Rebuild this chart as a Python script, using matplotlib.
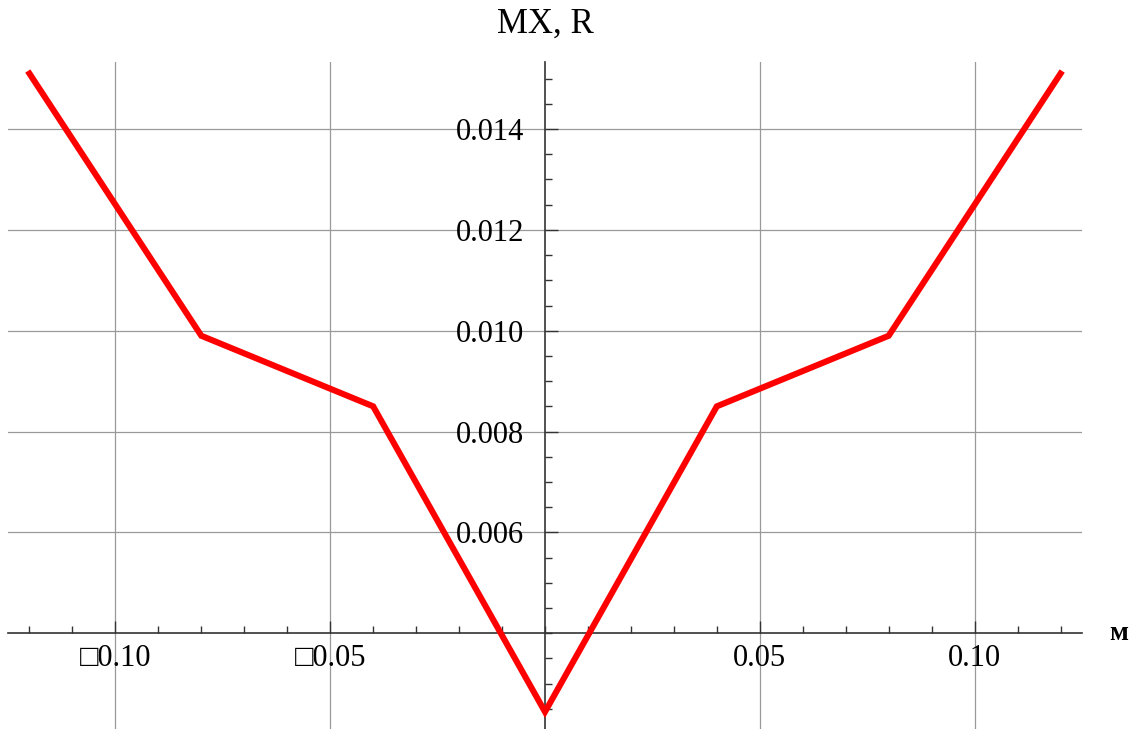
import matplotlib
matplotlib.use('Agg')
import matplotlib.pyplot as plt
from matplotlib.ticker import FixedLocator, MultipleLocator

# piecewise-linear curve
m = [-0.12, -0.08, -0.04, 0.0, 0.04, 0.08, 0.12]
mx_r = [0.0151, 0.0099, 0.0085, 0.00244, 0.0085, 0.0099, 0.0151]

x_ticks = [-0.10, -0.05, 0.05, 0.10]
x_labels = ['\u25a10.10', '\u25a10.05', '0.05', '0.10']
y_ticks = [0.006, 0.008, 0.010, 0.012, 0.014]
y_labels = ['0.006', '0.008', '0.010', '0.012', '0.014']

fam = ['Liberation Serif', 'DejaVu Sans']
plt.rcParams['font.family'] = fam

fig = plt.figure(figsize=(11.37, 7.29), dpi=100)
ax = fig.add_axes([8 / 1137, 0.0, 1074 / 1137, 667 / 729])

ax.plot(m, mx_r, color='red', lw=4.4, solid_joinstyle='miter', zorder=3)

ax.set_xlim(-0.125, 0.125)
ax.set_ylim(0.0021, 0.01533)

# axes crossing at (0, 0.004)
ax.spines['left'].set_position(('data', 0.0))
ax.spines['bottom'].set_position(('data', 0.004))
ax.spines['top'].set_visible(False)
ax.spines['right'].set_visible(False)
for s in ('left', 'bottom'):
    ax.spines[s].set_color('#333333')
    ax.spines[s].set_linewidth(1.2)

ax.xaxis.set_major_locator(FixedLocator(x_ticks))
ax.set_xticklabels(x_labels)
ax.xaxis.set_minor_locator(MultipleLocator(0.01))
ax.yaxis.set_major_locator(FixedLocator(y_ticks))
ax.set_yticklabels(y_labels)
ax.yaxis.set_minor_locator(MultipleLocator(0.0005))

ax.tick_params(which='both', direction='in', color='#333333', width=1)
ax.tick_params(which='major', length=9)
ax.tick_params(which='minor', length=5)
ax.tick_params(axis='x', which='major', labelsize=22, pad=8)
ax.tick_params(axis='y', which='major', labelsize=22, pad=15)

ax.grid(True, which='major', color='#999999', lw=0.9)
ax.set_axisbelow(True)

fig.text(545 / 1137, 1 - 24 / 729, 'MX, R', ha='center', va='center', fontsize=25)
fig.text(1119 / 1137, 1 - 633 / 729, 'м', ha='center', va='center', fontsize=20,
         weight='bold')

fig.savefig('out.png', dpi=100)
